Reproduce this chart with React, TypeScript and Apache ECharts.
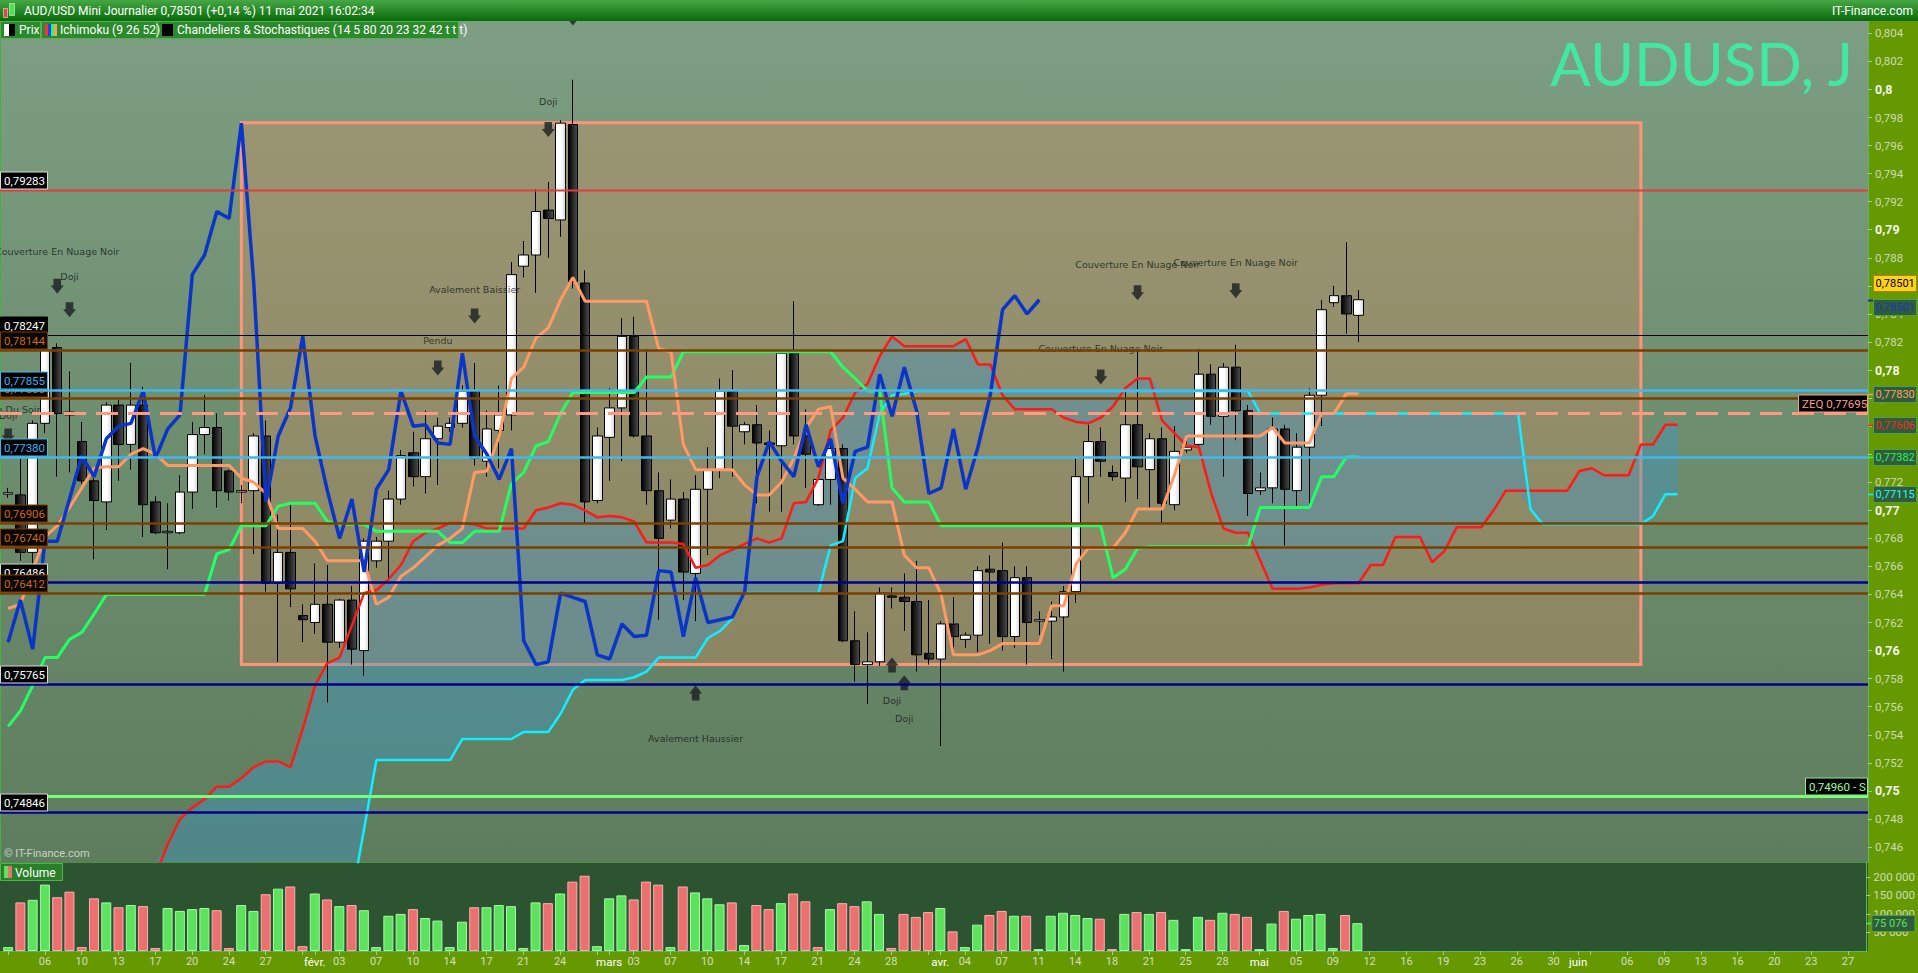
import React, { useEffect, useRef } from "react";
import * as echarts from "echarts";

const W = 1918;
const H = 973;

// ---------------- data ----------------
const firstSession = "2021-01-03";
const sessionCount = 152;

// [open, close, low, high]
const candles: [number, number, number, number][] = [
  [0.77115, 0.77125, 0.7709, 0.7716], [0.7711, 0.767, 0.7664, 0.7737], [0.767, 0.7762, 0.7662, 0.7764], [0.7762, 0.7814, 0.7755, 0.7819],
  [0.7816, 0.7769, 0.7724, 0.7819], [0.777, 0.7768, 0.7727, 0.7799], [0.7749, 0.7721, 0.7719, 0.7763], [0.7721, 0.7707, 0.7665, 0.7723],
  [0.7706, 0.7775, 0.7686, 0.7777], [0.7775, 0.7747, 0.7721, 0.7779], [0.7747, 0.7775, 0.7729, 0.7805], [0.7775, 0.7704, 0.7681, 0.7788],
  [0.7706, 0.7684, 0.7683, 0.771], [0.7684, 0.7685, 0.7658, 0.7705], [0.7684, 0.7713, 0.7683, 0.7725], [0.7713, 0.7754, 0.7701, 0.7763],
  [0.7754, 0.7759, 0.774, 0.7782], [0.7759, 0.7714, 0.7702, 0.7769], [0.7728, 0.7713, 0.7707, 0.7729], [0.7713, 0.7714, 0.7705, 0.7718],
  [0.7714, 0.7753, 0.7669, 0.7755], [0.7753, 0.7648, 0.7642, 0.7764], [0.7648, 0.767, 0.7592, 0.7697], [0.767, 0.7644, 0.7631, 0.7704],
  [0.7625, 0.7622, 0.7606, 0.7633], [0.762, 0.7633, 0.7612, 0.7662], [0.7633, 0.7606, 0.7563, 0.7661], [0.7606, 0.7636, 0.7602, 0.7637],
  [0.7636, 0.7601, 0.759, 0.7646], [0.76, 0.7678, 0.7582, 0.768], [0.7664, 0.7678, 0.7659, 0.7681], [0.7678, 0.7708, 0.7651, 0.7714],
  [0.7708, 0.7739, 0.7704, 0.7743], [0.7741, 0.7724, 0.7717, 0.7756], [0.7724, 0.7751, 0.7712, 0.7771], [0.7751, 0.776, 0.7718, 0.7766],
  [0.7759, 0.7762, 0.7756, 0.7766], [0.7762, 0.7785, 0.7759, 0.7789], [0.7785, 0.7737, 0.7732, 0.7805], [0.7735, 0.7758, 0.7724, 0.7771],
  [0.7757, 0.7768, 0.773, 0.7789], [0.7768, 0.7868, 0.7757, 0.7877], [0.7874, 0.7882, 0.7866, 0.7892], [0.7882, 0.7913, 0.7855, 0.7929],
  [0.7914, 0.7908, 0.788, 0.7934], [0.7907, 0.7976, 0.7895, 0.7978], [0.7975, 0.7863, 0.7858, 0.8007], [0.7862, 0.7706, 0.7691, 0.7871],
  [0.7707, 0.7753, 0.7705, 0.7759], [0.7752, 0.7773, 0.7721, 0.7787], [0.7773, 0.7824, 0.7735, 0.7837], [0.7824, 0.7753, 0.7752, 0.7838],
  [0.7753, 0.7714, 0.7704, 0.7815], [0.7714, 0.768, 0.7622, 0.7727], [0.7693, 0.7708, 0.7687, 0.7722], [0.7708, 0.7656, 0.7636, 0.7713],
  [0.7655, 0.7715, 0.7621, 0.7725], [0.7715, 0.7729, 0.7668, 0.7745], [0.7729, 0.7785, 0.7723, 0.7794], [0.7785, 0.776, 0.7724, 0.78],
  [0.7756, 0.7761, 0.7747, 0.7763], [0.7761, 0.7748, 0.7705, 0.7775], [0.7748, 0.7747, 0.7699, 0.7757], [0.7746, 0.7812, 0.7699, 0.7814],
  [0.7812, 0.7753, 0.7747, 0.7849], [0.7753, 0.774, 0.7716, 0.7772], [0.7704, 0.7722, 0.7703, 0.7724], [0.7722, 0.7744, 0.7704, 0.7751],
  [0.7744, 0.7607, 0.7606, 0.7747], [0.7607, 0.759, 0.7578, 0.7628], [0.759, 0.7592, 0.7562, 0.7613], [0.7592, 0.7641, 0.7589, 0.7645],
  [0.7639, 0.7638, 0.763, 0.7645], [0.7638, 0.7635, 0.7614, 0.7655], [0.7635, 0.7597, 0.7585, 0.7664], [0.7598, 0.7594, 0.759, 0.7636],
  [0.7594, 0.7619, 0.7532, 0.7621], [0.7619, 0.761, 0.7597, 0.7638], [0.7608, 0.7611, 0.7602, 0.7613], [0.7611, 0.7657, 0.7599, 0.766],
  [0.7658, 0.7656, 0.7605, 0.7668], [0.7657, 0.761, 0.76, 0.7677], [0.761, 0.7652, 0.7602, 0.766], [0.7652, 0.762, 0.759, 0.766],
  [0.7621, 0.7622, 0.7611, 0.7628], [0.7621, 0.7624, 0.7594, 0.7635], [0.7624, 0.7642, 0.7585, 0.7646], [0.7642, 0.7724, 0.7634, 0.7738],
  [0.7724, 0.7749, 0.7705, 0.7761], [0.7749, 0.7735, 0.7724, 0.7759], [0.7727, 0.7724, 0.7721, 0.7732], [0.7723, 0.7761, 0.7706, 0.7785],
  [0.7761, 0.7731, 0.7708, 0.7814], [0.7729, 0.7751, 0.7701, 0.7755], [0.7751, 0.7705, 0.7691, 0.7759], [0.7704, 0.7742, 0.77, 0.776],
  [0.7743, 0.7745, 0.7741, 0.7754], [0.7747, 0.7797, 0.7746, 0.7815], [0.7797, 0.7767, 0.7761, 0.7804], [0.7767, 0.7802, 0.7724, 0.7805],
  [0.7802, 0.7771, 0.775, 0.7818], [0.7771, 0.7712, 0.7696, 0.7775], [0.7714, 0.7716, 0.7711, 0.7727], [0.7716, 0.7758, 0.7705, 0.7766],
  [0.7758, 0.7715, 0.7675, 0.7761], [0.7714, 0.7745, 0.7703, 0.7755], [0.7745, 0.7782, 0.7704, 0.7787], [0.7782, 0.7843, 0.776, 0.785],
  [0.7848, 0.7853, 0.7845, 0.786], [0.7853, 0.784, 0.7826, 0.7891], [0.7839, 0.78501, 0.782, 0.7857],
];

const volumes: number[] = [
  10500, 131000, 138000, 179000, 145000, 160000, 10500, 142000, 131000, 118000,
  124000, 121000, 8000, 116000, 108000, 113000, 116000, 110000, 8000, 124000,
  108000, 153000, 168000, 174000, 13000, 155000, 139000, 121000, 124000, 110000,
  10500, 95000, 100000, 113000, 89000, 82000, 10500, 79000, 118000, 118000,
  124000, 121000, 8000, 131000, 129000, 155000, 187000, 203000, 13000, 142000,
  150000, 139000, 187000, 179000, 10500, 174000, 158000, 142000, 126000, 131000,
  16000, 124000, 113000, 129000, 155000, 134000, 10500, 113000, 129000, 121000,
  134000, 100000, 8000, 100000, 92000, 105000, 116000, 53000, 10500, 71000,
  97000, 108000, 95000, 95000, 5000, 95000, 103000, 97000, 89000, 87000,
  5000, 100000, 105000, 100000, 105000, 84000, 5000, 92000, 84000, 103000,
  100000, 92000, 5000, 74000, 108000, 87000, 97000, 100000, 8000, 97000,
  75076,
];

// Ichimoku (9 26 52)
const tenkan: number[] = [
  0.763, 0.7633, 0.7657, 0.7681, 0.7689, 0.7702, 0.7716, 0.773, 0.7731, 0.7731,
  0.774, 0.7744, 0.774, 0.7732, 0.7732, 0.7732, 0.7732, 0.7732, 0.7732, 0.7723,
  0.772, 0.7712, 0.7687, 0.7687, 0.7687, 0.7678, 0.7664, 0.7664, 0.7664, 0.7664,
  0.7633, 0.7638, 0.7653, 0.7659, 0.7667, 0.7675, 0.768, 0.7687, 0.7727, 0.7728,
  0.7753, 0.7794, 0.7802, 0.7823, 0.783, 0.785, 0.7866, 0.7849, 0.7849, 0.7849,
  0.7849, 0.7849, 0.7849, 0.7815, 0.7813, 0.7747, 0.7729, 0.7729, 0.7729, 0.7729,
  0.7718, 0.7711, 0.7711, 0.772, 0.7737, 0.7759, 0.7772, 0.7774, 0.7723, 0.7715,
  0.7706, 0.7706, 0.7706, 0.7668, 0.7659, 0.7659, 0.764, 0.7597, 0.7597, 0.7597,
  0.76, 0.7605, 0.7605, 0.7605, 0.7605, 0.7632, 0.7632, 0.7662, 0.7673, 0.7673,
  0.7673, 0.7684, 0.7701, 0.7701, 0.7701, 0.7725, 0.7753, 0.7753, 0.7753, 0.7753,
  0.7753, 0.7753, 0.7753, 0.7759, 0.7748, 0.7748, 0.7748, 0.7769, 0.7769, 0.7783,
  0.7783,
];

const kijun: number[] = [
  0.7546, 0.7557, 0.7575, 0.7595, 0.7595, 0.7608, 0.7613, 0.7626, 0.764, 0.764,
  0.764, 0.764, 0.764, 0.764, 0.764, 0.764, 0.764, 0.7669, 0.7672, 0.7689,
  0.7689, 0.7689, 0.7703, 0.7705, 0.7705, 0.7705, 0.7692, 0.769, 0.769, 0.769,
  0.7685, 0.7685, 0.7685, 0.7685, 0.7685, 0.7685, 0.7677, 0.7677, 0.7685, 0.7685,
  0.7685, 0.7719, 0.7727, 0.7746, 0.7749, 0.7769, 0.7784, 0.7784, 0.7784, 0.7784,
  0.7784, 0.7784, 0.7795, 0.7795, 0.7795, 0.7813, 0.7813, 0.7813, 0.7813, 0.7813,
  0.7813, 0.7813, 0.7813, 0.7813, 0.7813, 0.7813, 0.7813, 0.7813, 0.7802, 0.7794,
  0.7785, 0.7785, 0.7716, 0.7706, 0.7706, 0.7706, 0.7689, 0.7689, 0.7689, 0.7689,
  0.7689, 0.7689, 0.7689, 0.7689, 0.7689, 0.7689, 0.7689, 0.7689, 0.7689, 0.7689,
  0.7652, 0.7658, 0.7673, 0.7674, 0.7674, 0.7674, 0.7674, 0.7674, 0.7674, 0.7674,
  0.7674, 0.7674, 0.7702, 0.7702, 0.7702, 0.7702, 0.7702, 0.7724, 0.7724, 0.7738,
  0.7738,
];

const senkouA: (number | null)[] = [
  null, null, null, null, null, null, null, null, null, null,
  null, null, 0.744, 0.7462, 0.748, 0.7488, 0.7494, 0.7503, 0.7503, 0.7509,
  0.7517, 0.7521, 0.7521, 0.7517, 0.7544, 0.7575, 0.7591, 0.7595, 0.7618, 0.7641,
  0.7643, 0.7651, 0.7661, 0.7678, 0.7684, 0.7687, 0.7691, 0.7691, 0.769, 0.7687,
  0.7687, 0.7687, 0.7687, 0.77, 0.7702, 0.7705, 0.7704, 0.77, 0.7695, 0.7696,
  0.7695, 0.7692, 0.7677, 0.7677, 0.7677, 0.7676, 0.7659, 0.7661, 0.7668, 0.7672,
  0.7676, 0.768, 0.7677, 0.768, 0.7705, 0.7706, 0.7723, 0.7757, 0.7766, 0.7784,
  0.779, 0.781, 0.7824, 0.7817, 0.7817, 0.7817, 0.7817, 0.7817, 0.7822, 0.7804,
  0.7804, 0.7782, 0.7772, 0.7772, 0.7772, 0.7772, 0.7766, 0.7763, 0.7762, 0.7766,
  0.7774, 0.7787, 0.7794, 0.7794, 0.7764, 0.7755, 0.7746, 0.7745, 0.7712, 0.7687,
  0.7684, 0.7684, 0.7664, 0.7644, 0.7644, 0.7644, 0.7645, 0.7647, 0.7648, 0.7648,
  0.7648, 0.7661, 0.7661, 0.7681, 0.7681, 0.7681, 0.7663, 0.7671, 0.7688, 0.7688,
  0.7688, 0.77, 0.7714, 0.7714, 0.7714, 0.7714, 0.7714, 0.7714, 0.7728, 0.773,
  0.7725, 0.7725, 0.7725, 0.7747, 0.7747, 0.7761, 0.7761,
];

const senkouB: (number | null)[] = [
  null, null, null, null, null, null, null, null, null, null,
  null, null, null, null, null, null, null, null, null, null,
  null, null, null, null, null, null, null, null, 0.7425, 0.7473,
  0.7522, 0.7522, 0.7522, 0.7522, 0.7522, 0.7522, 0.7522, 0.7537, 0.7537, 0.7537,
  0.7537, 0.7537, 0.7542, 0.7542, 0.7542, 0.7555, 0.7572, 0.7579, 0.7579, 0.7579,
  0.7579, 0.7581, 0.7585, 0.7595, 0.7595, 0.7595, 0.7595, 0.7609, 0.7614, 0.7623,
  0.7641, 0.7641, 0.7641, 0.7641, 0.7641, 0.7641, 0.7641, 0.7675, 0.7678, 0.7723,
  0.773, 0.7769, 0.7782, 0.7783, 0.7785, 0.7785, 0.7785, 0.7785, 0.7785, 0.7785,
  0.7785, 0.7785, 0.7785, 0.7785, 0.7785, 0.7785, 0.7785, 0.7785, 0.7785, 0.7785,
  0.7785, 0.7785, 0.7785, 0.7785, 0.7785, 0.7785, 0.7785, 0.7785, 0.7785, 0.7785,
  0.7785, 0.7785, 0.7769, 0.7769, 0.7769, 0.7769, 0.7769, 0.7769, 0.7769, 0.7769,
  0.7769, 0.7769, 0.7769, 0.7769, 0.7769, 0.7769, 0.7769, 0.7769, 0.7769, 0.7769,
  0.7769, 0.7769, 0.7769, 0.7769, 0.7701, 0.769, 0.769, 0.769, 0.769, 0.769,
  0.769, 0.769, 0.769, 0.769, 0.7696, 0.77115, 0.77115,
];
const chikouLag = 26;

// horizontal levels (drawing order)
const levels: { price: number; kind: string }[] = [
  { price: 0.778, kind: "brown" },
  { price: 0.76486, kind: "navy" },
  { price: 0.79283, kind: "red" },
  { price: 0.78247, kind: "black" },
  { price: 0.78144, kind: "brown" },
  { price: 0.77855, kind: "sky" },
  { price: 0.77695, kind: "zeq" },
  { price: 0.7738, kind: "sky" },
  { price: 0.76906, kind: "brown" },
  { price: 0.7674, kind: "brown" },
  { price: 0.76412, kind: "brown" },
  { price: 0.75765, kind: "navy" },
  { price: 0.7496, kind: "support" },
  { price: 0.74846, kind: "navy" },
];

// value markers on the price scale
const priceMarkers: { price: number; kind: string }[] = [
  { price: 0.78501, kind: "last" },
  { price: 0.78501, kind: "chikou" },
  { price: 0.7783, kind: "tenkan" },
  { price: 0.77606, kind: "senkouA" },
  { price: 0.77382, kind: "kijun" },
  { price: 0.77115, kind: "senkouB" },
];
const volumeMarkers: { volume: number; kind: string }[] = [{ volume: 75076, kind: "volume" }];

// candle patterns
const patternTexts: { i: number; price: number; text: string }[] = [
  { i: 0, price: 0.7772, text: "Etoile Du Soir" },
  { i: 0, price: 0.77675, text: "Doji" },
  { i: 4, price: 0.78847, text: "Couverture En Nuage Noir" },
  { i: 5, price: 0.78668, text: "Doji" },
  { i: 35, price: 0.78209, text: "Pendu" },
  { i: 38, price: 0.78576, text: "Avalement Baissier" },
  { i: 44, price: 0.79911, text: "Doji" },
  { i: 56, price: 0.75373, text: "Avalement Haussier" },
  { i: 72, price: 0.75641, text: "Doji" },
  { i: 73, price: 0.75513, text: "Doji" },
  { i: 89, price: 0.78152, text: "Couverture En Nuage Noir" },
  { i: 92, price: 0.78754, text: "Couverture En Nuage Noir" },
  { i: 100, price: 0.78767, text: "Couverture En Nuage Noir" },
];
const patternArrows: { i: number; price: number; dir: string }[] = [
  { i: 0, price: 0.7753, dir: "down" },
  { i: 4, price: 0.78598, dir: "down" },
  { i: 5, price: 0.78429, dir: "down" },
  { i: 35, price: 0.78015, dir: "down" },
  { i: 38, price: 0.78385, dir: "down" },
  { i: 44, price: 0.79714, dir: "down" },
  { i: 46, price: 0.8051, dir: "down" },
  { i: 56, price: 0.75698, dir: "up" },
  { i: 72, price: 0.75898, dir: "up" },
  { i: 73, price: 0.75771, dir: "up" },
  { i: 89, price: 0.77951, dir: "down" },
  { i: 92, price: 0.7855, dir: "down" },
  { i: 100, price: 0.78566, dir: "down" },
];

// rectangle drawn on the chart
const rangeBox = { from: 19, to: 133, low: 0.759, high: 0.79763 };

// axis ticks
const priceTicks = [
  0.746, 0.748, 0.75, 0.752, 0.754, 0.756, 0.758, 0.76, 0.762, 0.764, 0.766, 0.768, 0.77, 0.772, 0.774,
  0.776, 0.778, 0.78, 0.782, 0.784, 0.786, 0.788, 0.79, 0.792, 0.794, 0.796, 0.798, 0.8, 0.802, 0.804,
];
const volumeTicks = [50000, 100000, 150000, 200000];
const dateLabels: [string, string][] = [
  ["2021-01-06", "06"], ["2021-01-10", "10"], ["2021-01-13", "13"], ["2021-01-17", "17"], ["2021-01-20", "20"], ["2021-01-24", "24"], ["2021-01-27", "27"],
  ["2021-02-01", "févr."], ["2021-02-03", "03"], ["2021-02-07", "07"], ["2021-02-10", "10"], ["2021-02-14", "14"], ["2021-02-17", "17"], ["2021-02-21", "21"], ["2021-02-24", "24"],
  ["2021-03-01", "mars"], ["2021-03-03", "03"], ["2021-03-07", "07"], ["2021-03-10", "10"], ["2021-03-14", "14"], ["2021-03-17", "17"], ["2021-03-21", "21"], ["2021-03-24", "24"], ["2021-03-28", "28"],
  ["2021-04-01", "avr."], ["2021-04-04", "04"], ["2021-04-07", "07"], ["2021-04-11", "11"], ["2021-04-14", "14"], ["2021-04-18", "18"], ["2021-04-21", "21"], ["2021-04-25", "25"], ["2021-04-28", "28"],
  ["2021-05-02", "mai"], ["2021-05-05", "05"], ["2021-05-09", "09"], ["2021-05-12", "12"], ["2021-05-16", "16"], ["2021-05-19", "19"], ["2021-05-23", "23"], ["2021-05-26", "26"], ["2021-05-30", "30"],
  ["2021-06-01", "juin"], ["2021-06-06", "06"], ["2021-06-09", "09"], ["2021-06-13", "13"], ["2021-06-16", "16"], ["2021-06-20", "20"], ["2021-06-23", "23"], ["2021-06-27", "27"],
];
const extraTickDates = ["2021-01-03", "2021-01-31", "2021-02-28", "2021-03-31", "2021-06-02"];
const monthNames = ["févr.", "mars", "avr.", "mai", "juin"];

const PRICE_MIN = 0.74493;
const PRICE_MAX = 0.80488;
const VOLUME_MAX = 240000;

// ---------------- helpers ----------------
function buildSessions(start: string, n: number): string[] {
  const out: string[] = [];
  const d = new Date(start + "T12:00:00Z");
  while (out.length < n) {
    if (d.getUTCDay() !== 6) out.push(d.toISOString().slice(0, 10));
    d.setUTCDate(d.getUTCDate() + 1);
  }
  return out;
}
const fmtAxis = (v: number) => String(parseFloat(v.toFixed(3))).replace(".", ",");
const fmt5 = (v: number) => v.toFixed(5).replace(".", ",");
const isRound = (v: number) => Math.abs(v * 100 - Math.round(v * 100)) < 1e-7;
const fmtVol = (v: number) => `${Math.floor(v / 1000)} ${String(Math.round(v % 1000)).padStart(3, "0")}`;

const FONT = "Roboto, 'Noto Sans', sans-serif";

const levelKinds: Record<string, any> = {
  red: { stroke: "#e23c3c", width: 2, text: "#ffffff", box: "#000000", border: "#d8d8d8" },
  black: { stroke: "#000000", width: 1, text: "#ffffff", box: "#000000", border: "#000000" },
  brown: { stroke: "#7b3f00", width: 2.5, text: "#c86a1a", box: "#0a0500", border: "#7b3f00" },
  sky: { stroke: "#3fb8ee", width: 2.5, text: "#3bb0f6", box: "#000000", border: "#3fb8ee" },
  navy: { stroke: "#00008c", width: 2.5, text: "#ffffff", box: "#000000", border: "#d8d8d8" },
  zeq: { stroke: "#ff9a80", width: 3, dash: [22, 10], text: "#ff9f86", box: "#000000", border: "#ff9a80", side: "right", prefix: "ZEQ ", boxW: 70 },
  support: { stroke: "#77ff77", width: 3, text: "#9cff9c", box: "#000000", border: "#88ee88", side: "right", suffix: " - S", boxW: 63 },
};
const markerKinds: Record<string, any> = {
  last: { fill: "#ffd21a", border: "#a88400", text: "#000000", tick: "#000000", dy: -17 },
  chikou: { fill: "#2f5d3c", border: "#4e9e4e", text: "#1838b8", tick: "#0b35c9", dy: 7 },
  tenkan: { fill: "#2f5d3c", border: "#4e9e4e", text: "#ff9f6a", tick: "#ff9966", dy: 0 },
  senkouA: { fill: "#2f5d3c", border: "#4e9e4e", text: "#ff2424", tick: "#ff1a1a", dy: 0 },
  kijun: { fill: "#2f5d3c", border: "#4e9e4e", text: "#2bf05a", tick: "#22ff66", dy: 0 },
  senkouB: { fill: "#2f5d3c", border: "#4e9e4e", text: "#2bf5ff", tick: "#11eeff", dy: 0 },
  volume: { fill: "#2f5d3c", border: "#4e9e4e", text: "#5ee35e", tick: "#5ee35e", dy: 0 },
};

const DOWN_ARROW = "path://M2.5,0L9.5,0L9.5,6.5L12,6.5L6,14L0,6.5L2.5,6.5Z";
const UP_ARROW = "path://M6,0L12,7.5L9.5,7.5L9.5,14L2.5,14L2.5,7.5L0,7.5Z";

function buildOption() {
  const sessions = buildSessions(firstSession, sessionCount);
  const labelMap = new Map(dateLabels);
  const tickSet = new Set<string>([...dateLabels.map((d) => d[0]), ...extraTickDates]);
  const closes = candles.map((c) => c[1]);
  const chikou = candles.map((_, i) => (i + chikouLag < candles.length ? closes[i + chikouLag] : null));
  const cloudLo = senkouA.map((a, i) => (a == null ? null : Math.min(a, senkouB[i] ?? PRICE_MIN)));
  const cloudSpan = senkouA.map((a, i) => (a == null ? null : Math.abs(a - (senkouB[i] ?? PRICE_MIN))));

  const lg = (dir: "h" | "v", stops: [number, string][]) =>
    new echarts.graphic.LinearGradient(0, 0, dir === "h" ? 1 : 0, dir === "v" ? 1 : 0,
      stops.map(([offset, color]) => ({ offset, color })));

  const lineSeries = (data: (number | null)[], color: string, width: number) => ({
    type: "line", xAxisIndex: 0, yAxisIndex: 0, data, symbol: "none", silent: true, z: 3,
    lineStyle: { color, width }, connectNulls: false,
  });

  const tabText = (x: number, text: string) => ({
    type: "text", z: 101, silent: true,
    style: { text, x, y: 30, verticalAlign: "middle", fill: "#ffffff", font: `12px ${FONT}` },
  });

  const graphicElements: any[] = [
    { type: "rect", z: -10, silent: true, shape: { x: 0, y: 21, width: 1868, height: 841 },
      style: { fill: lg("v", [[0, "#7d9e82"], [1, "#5e7d5d"]]) } },
    { type: "rect", z: -10, silent: true, shape: { x: 0, y: 862, width: 1868, height: 89 }, style: { fill: "#2c5431" } },
    { type: "line", z: -9, silent: true, shape: { x1: 0.5, y1: 21, x2: 0.5, y2: 862 }, style: { stroke: "#45b045", lineWidth: 1 } },
    { type: "line", z: -9, silent: true, shape: { x1: 0, y1: 862.5, x2: 1868, y2: 862.5 }, style: { stroke: "#4a8f4a", lineWidth: 1 } },
    { type: "text", z: -5, silent: true,
      style: { text: "AUDUSD, J", x: 1853, y: 63, align: "right", verticalAlign: "middle", fill: "#42e8a2", font: "normal 60px Lato, 'Open Sans', sans-serif" } },
    { type: "text", z: -5, silent: true,
      style: { text: "© IT-Finance.com", x: 4, y: 853, verticalAlign: "middle", fill: "#c6d3c6", font: `11px ${FONT}` } },
    // header
    { type: "rect", z: 100, silent: true, shape: { x: 0, y: 0, width: W, height: 21 },
      style: { fill: lg("v", [[0, "#45a845"], [1, "#086a08"]]) } },
    { type: "rect", z: 101, silent: true, shape: { x: 3.5, y: 8.5, width: 4, height: 9 }, style: { fill: "#e84444", stroke: "#ffffff", lineWidth: 0.5 } },
    { type: "rect", z: 101, silent: true, shape: { x: 9.5, y: 3.5, width: 5, height: 12 }, style: { fill: "#4ee04e", stroke: "#ffffff", lineWidth: 0.5 } },
    { type: "text", z: 101, silent: true,
      style: { text: "AUD/USD Mini Journalier 0,78501 (+0,14 %) 11 mai 2021 16:02:34", x: 24, y: 11, verticalAlign: "middle", fill: "#ffffff", font: `12px ${FONT}` } },
    { type: "text", z: 101, silent: true,
      style: { text: "IT-Finance.com", x: 1913, y: 11, align: "right", verticalAlign: "middle", fill: "#ffffff", font: `12px ${FONT}` } },
    // legend tabs
    { type: "rect", z: 100, silent: true, shape: { x: 0.5, y: 21.5, width: 40, height: 17 }, style: { fill: "#2b8a2b", stroke: "#55b055" } },
    { type: "rect", z: 100, silent: true, shape: { x: 41.5, y: 21.5, width: 115, height: 17 }, style: { fill: "#2b8a2b", stroke: "#55b055" } },
    { type: "rect", z: 100, silent: true, shape: { x: 157.5, y: 21.5, width: 301, height: 17 }, style: { fill: "#2b8a2b", stroke: "#55b055" } },
    { type: "rect", z: 101, silent: true, shape: { x: 4, y: 24, width: 5, height: 12 }, style: { fill: "#ffffff" } },
    { type: "rect", z: 101, silent: true, shape: { x: 9, y: 24, width: 6, height: 12 }, style: { fill: "#000000" } },
    { type: "rect", z: 101, silent: true, shape: { x: 45, y: 24, width: 3, height: 12 }, style: { fill: "#ff3030" } },
    { type: "rect", z: 101, silent: true, shape: { x: 48, y: 24, width: 3, height: 12 }, style: { fill: "#2040ff" } },
    { type: "rect", z: 101, silent: true, shape: { x: 51, y: 24, width: 3, height: 12 }, style: { fill: "#20ff60" } },
    { type: "rect", z: 101, silent: true, shape: { x: 54, y: 24, width: 3, height: 12 }, style: { fill: "#ff9966" } },
    { type: "rect", z: 101, silent: true, shape: { x: 162, y: 24, width: 11, height: 12 }, style: { fill: "#000000" } },
    tabText(19, "Prix"),
    tabText(60, "Ichimoku (9 26 52)"),
    tabText(177, "Chandeliers & Stochastiques (14 5 80 20 23 32 42 t t t)"),
    // volume tab
    { type: "rect", z: 100, silent: true, shape: { x: 0.5, y: 863.5, width: 62, height: 17 }, style: { fill: "#2a7f2a", stroke: "#52b052" } },
    { type: "rect", z: 101, silent: true, shape: { x: 4, y: 866, width: 4, height: 12 }, style: { fill: "#5ee35e" } },
    { type: "rect", z: 101, silent: true, shape: { x: 8, y: 866, width: 4, height: 12 }, style: { fill: "#ec7070" } },
    { type: "text", z: 101, silent: true,
      style: { text: "Volume", x: 15, y: 872.5, verticalAlign: "middle", fill: "#ffffff", font: `12px ${FONT}` } },
  ];

  const levelSeries = {
    type: "custom", xAxisIndex: 0, yAxisIndex: 0, z: 4, silent: true, clip: false,
    data: levels.map((l, k) => [0, l.price, k]),
    encode: { x: 0, y: 1 },
    renderItem: (params: any, api: any) => {
      const lv = levels[api.value(2)];
      const k = levelKinds[lv.kind];
      const cs = params.coordSys;
      const y = Math.round(api.coord([0, api.value(1)])[1]) + 0.5;
      const text = (k.prefix || "") + fmt5(lv.price) + (k.suffix || "");
      const bw = k.boxW || 48;
      const bx = k.side === "right" ? cs.x + cs.width - bw : 0;
      const lineStyle: any = { stroke: k.stroke, lineWidth: k.width };
      if (k.dash) lineStyle.lineDash = k.dash;
      return {
        type: "group",
        children: [
          { type: "line", shape: { x1: 0, y1: y, x2: cs.x + cs.width, y2: y }, style: lineStyle },
          { type: "rect", shape: { x: bx + 0.5, y: y - 18.5, width: bw - 1, height: 17 }, style: { fill: k.box, stroke: k.border, lineWidth: 1 } },
          { type: "text", style: { text, x: bx + 4, y: y - 10, verticalAlign: "middle", fill: k.text, font: `11.5px ${FONT}` } },
        ],
      };
    },
  };

  const markerRender = (list: any[], key: string) => (params: any, api: any) => {
    const m = list[api.value(2)];
    const k = markerKinds[m.kind];
    const cs = params.coordSys;
    const y = Math.round(api.coord([0, api.value(1)])[1]) + 0.5;
    const x0 = cs.x + cs.width;
    const cy = y + k.dy;
    const val = m[key];
    const text = key === "volume" ? fmtVol(val) : fmt5(val);
    return {
      type: "group",
      children: [
        { type: "line", shape: { x1: x0, y1: y, x2: x0 + 5, y2: y }, style: { stroke: k.tick, lineWidth: 1.5 } },
        { type: "rect", shape: { x: x0 + 5.5, y: cy - 8, width: 43, height: 16 }, style: { fill: k.fill, stroke: k.border, lineWidth: 1 } },
        { type: "text", style: { text, x: x0 + 7.5, y: cy, verticalAlign: "middle", fill: k.text, font: `11px ${FONT}` } },
      ],
    };
  };

  return {
    animation: false,
    backgroundColor: "transparent",
    textStyle: { fontFamily: FONT },
    graphic: { elements: graphicElements },
    grid: [
      { left: 2, top: 21, width: 1866, height: 841 },
      { left: 2, top: 862, width: 1866, height: 89 },
    ],
    xAxis: [
      { type: "category", gridIndex: 0, data: sessions, boundaryGap: true, show: false },
      {
        type: "category", gridIndex: 1, data: sessions, boundaryGap: true,
        axisLine: { show: true, lineStyle: { color: "#5cb85c", width: 1 } },
        axisTick: { show: true, length: 4, alignWithLabel: true, interval: (_i: number, v: string) => tickSet.has(v), lineStyle: { color: "#9ed28a" } },
        axisLabel: {
          show: true, interval: 0, margin: 5,
          formatter: (v: string) => {
            const t = labelMap.get(v);
            if (!t) return "";
            return monthNames.includes(t) ? `{m|${t}}` : `{d|${t}}`;
          },
          rich: {
            m: { color: "#ffffff", fontSize: 11.5, fontFamily: FONT },
            d: { color: "#d2dec4", fontSize: 11, fontFamily: FONT },
          },
        },
        splitLine: { show: false },
      },
    ],
    yAxis: [
      {
        type: "value", gridIndex: 0, position: "right", min: PRICE_MIN, max: PRICE_MAX,
        splitLine: { show: false },
        axisLine: { show: true, lineStyle: { color: "#5cb85c" } },
        axisTick: { show: true, length: 4, customValues: priceTicks, lineStyle: { color: "#a2d27e" } },
        axisLabel: {
          show: true, customValues: priceTicks, margin: 7,
          formatter: (v: number) => (isRound(v) ? `{b|${fmtAxis(v)}}` : `{n|${fmtAxis(v)}}`),
          rich: {
            n: { color: "#cddbbd", fontSize: 11.5, fontFamily: FONT },
            b: { color: "#f2f6ea", fontSize: 12.5, fontFamily: FONT, fontWeight: "bold" },
          },
        },
      },
      {
        type: "value", gridIndex: 1, position: "right", min: 0, max: VOLUME_MAX,
        splitLine: { show: false },
        axisLine: { show: true, lineStyle: { color: "#5cb85c" } },
        axisTick: { show: true, length: 4, customValues: volumeTicks, lineStyle: { color: "#a2d27e" } },
        axisLabel: {
          show: true, customValues: volumeTicks, margin: 7, color: "#cddbbd", fontSize: 11.5, fontFamily: FONT,
          formatter: (v: number) => fmtVol(v),
        },
      },
    ],
    series: [
      {
        type: "line", xAxisIndex: 0, yAxisIndex: 0, data: closes, symbol: "none", silent: true, z: 1,
        lineStyle: { width: 0, opacity: 0 },
        markArea: {
          silent: true,
          label: { show: false },
          itemStyle: { color: "rgba(230,140,90,0.30)", borderColor: "#ff9479", borderWidth: 3 },
          data: [[
            { xAxis: sessions[rangeBox.from], yAxis: rangeBox.high },
            { xAxis: sessions[rangeBox.to], yAxis: rangeBox.low },
          ]],
        },
      },
      {
        type: "line", xAxisIndex: 0, yAxisIndex: 0, data: cloudLo, stack: "cloud", symbol: "none", silent: true, z: 1,
        lineStyle: { width: 0, opacity: 0 },
      },
      {
        type: "line", xAxisIndex: 0, yAxisIndex: 0, data: cloudSpan, stack: "cloud", symbol: "none", silent: true, z: 1,
        lineStyle: { width: 0, opacity: 0 }, areaStyle: { color: "rgba(60,150,200,0.40)", opacity: 1 },
      },
      {
        type: "candlestick", xAxisIndex: 0, yAxisIndex: 0, z: 2, barWidth: 10, silent: true,
        data: candles,
        itemStyle: {
          color: lg("h", [[0, "#ffffff"], [0.55, "#ffffff"], [1, "#d6d6d6"]]),
          color0: lg("h", [[0, "#000000"], [1, "#4e4e4e"]]),
          borderColor: "#000000", borderColor0: "#000000", borderWidth: 1,
        },
      },
      {
        type: "scatter", xAxisIndex: 0, yAxisIndex: 0, z: 2.2, silent: true, clip: false,
        symbol: "rect", symbolSize: 1, itemStyle: { color: "rgba(0,0,0,0)" },
        data: patternTexts.map((p) => ({ name: p.text, value: [p.i, p.price] })),
        label: { show: true, position: "inside", formatter: "{b}", color: "#15191c", fontSize: 9.5, fontFamily: "'DejaVu Sans', sans-serif" },
      },
      {
        type: "scatter", xAxisIndex: 0, yAxisIndex: 0, z: 2.5, silent: true, clip: false,
        symbolSize: [13, 15], itemStyle: { color: "#1a1e22" },
        data: patternArrows.map((a) => ({ value: [a.i, a.price], symbol: a.dir === "up" ? UP_ARROW : DOWN_ARROW })),
      },
      lineSeries(senkouA, "#ff1a1a", 2.5),
      lineSeries(senkouB, "#11eeff", 2.5),
      lineSeries(kijun, "#22ff66", 3),
      lineSeries(tenkan, "#ff9966", 3),
      lineSeries(chikou, "#0b35c9", 3.5),
      levelSeries,
      {
        type: "custom", xAxisIndex: 0, yAxisIndex: 0, z: 6, silent: true, clip: false,
        data: priceMarkers.map((m, k) => [0, m.price, k]),
        encode: { x: 0, y: 1 },
        renderItem: markerRender(priceMarkers, "price"),
      },
      {
        type: "bar", xAxisIndex: 1, yAxisIndex: 1, barWidth: 10, silent: true,
        data: volumes.map((v, i) => {
          const up = i === 0 || closes[i] >= closes[i - 1];
          return {
            value: v,
            itemStyle: up
              ? { color: "#5de25d", borderColor: "#a6f7a6", borderWidth: 1 }
              : { color: "#ec7070", borderColor: "#f8b0b0", borderWidth: 1 },
          };
        }),
      },
      {
        type: "custom", xAxisIndex: 1, yAxisIndex: 1, z: 6, silent: true, clip: false,
        data: volumeMarkers.map((m, k) => [0, m.volume, k]),
        encode: { x: 0, y: 1 },
        renderItem: markerRender(volumeMarkers, "volume"),
      },
    ],
  };
}

export default function App() {
  const ref = useRef<HTMLDivElement>(null);
  useEffect(() => {
    document.body.style.margin = "0";
    document.body.style.overflow = "hidden";
    const chart = echarts.init(ref.current as HTMLDivElement, undefined, { renderer: "svg", width: W, height: H });
    chart.setOption(buildOption() as any);
    return () => chart.dispose();
  }, []);
  return <div ref={ref} style={{ width: W, height: H, background: "#669900" }} />;
}
